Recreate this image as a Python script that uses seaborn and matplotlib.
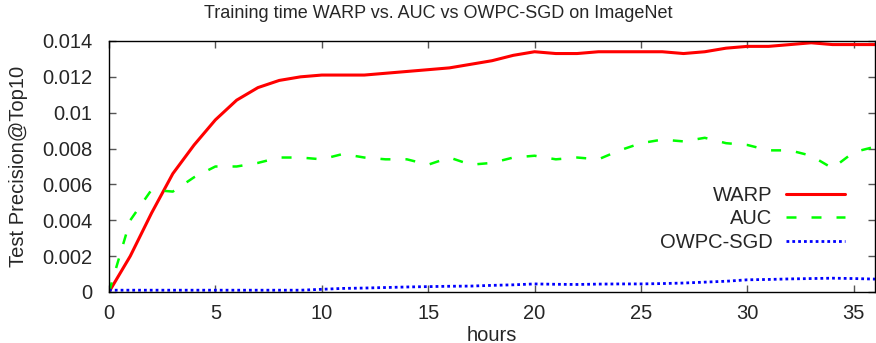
import numpy as np
import pandas as pd
import matplotlib
matplotlib.use("Agg")
import matplotlib.pyplot as plt
import seaborn as sns

# data (hourly)
hours = list(range(0, 37))

warp = [0.0, 0.0020, 0.0044, 0.0066, 0.0082, 0.0096, 0.0107, 0.0114, 0.0118,
        0.0120, 0.0121, 0.0121, 0.0121, 0.0122, 0.0123, 0.0124, 0.0125, 0.0127,
        0.0129, 0.0132, 0.0134, 0.0133, 0.0133, 0.0134, 0.0134, 0.0134, 0.0134,
        0.0133, 0.0134, 0.0136, 0.0137, 0.0137, 0.0138, 0.0139, 0.0138, 0.0138,
        0.0138]

auc = [0.0, 0.0040, 0.0057, 0.0056, 0.0064, 0.0070, 0.0070, 0.0072, 0.0075,
       0.0075, 0.0074, 0.0077, 0.0075, 0.0074, 0.0074, 0.0071, 0.0075, 0.0071,
       0.0072, 0.0075, 0.0076, 0.0074, 0.0075, 0.0074, 0.0079, 0.0083, 0.0085,
       0.0084, 0.0086, 0.0083, 0.0082, 0.0079, 0.0079, 0.0076, 0.0069, 0.0078,
       0.0081]

owpc = [0.0001, 0.0001, 0.0001, 0.0001, 0.0001, 0.0001, 0.0001, 0.0001, 0.0001,
        0.0001, 0.00015, 0.0002, 0.00022, 0.00025, 0.00028, 0.0003, 0.00032,
        0.00033, 0.00037, 0.0004, 0.00045, 0.00043, 0.00042, 0.00044, 0.00045,
        0.00045, 0.00047, 0.0005, 0.00055, 0.0006, 0.00068, 0.0007, 0.00073,
        0.00075, 0.00077, 0.00075, 0.00072]

x_ticks = [0, 5, 10, 15, 20, 25, 30, 35]
y_ticks = [0, 0.002, 0.004, 0.006, 0.008, 0.010, 0.012, 0.014]
y_tick_labels = ["0", "0.002", "0.004", "0.006", "0.008", "0.01", "0.012", "0.014"]

df = pd.DataFrame({"hours": hours, "WARP": warp, "AUC": auc, "OWPC-SGD": owpc})

sns.set_style("ticks")
plt.rcParams["font.family"] = ["Liberation Sans", "DejaVu Sans"]

fig = plt.figure(figsize=(8.76, 3.43), dpi=100)
ax = fig.add_axes([0.1244, 0.1487, 0.8745, 0.7318])

sns.lineplot(data=df, x="hours", y="WARP", ax=ax, color="#ff0000",
             linewidth=2.2, label="WARP")
sns.lineplot(data=df, x="hours", y="AUC", ax=ax, color="#00ff00",
             linewidth=1.8, label="AUC")
ax.lines[-1].set_dashes([4, 6])
sns.lineplot(data=df, x="hours", y="OWPC-SGD", ax=ax, color="#0000ff",
             linewidth=2.0, label="OWPC-SGD")
ax.lines[-1].set_dashes([1, 1.1])

ax.set_xlim(0, 36)
ax.set_ylim(0, 0.014)
ax.set_xticks(x_ticks)
ax.set_yticks(y_ticks)
ax.set_yticklabels(y_tick_labels)

ax.tick_params(direction="in", top=True, right=True, length=5, width=1,
               labelsize=14.5, color="#555555")
ax.tick_params(axis="y", pad=12)
ax.tick_params(axis="x", pad=9)
for s in ax.spines.values():
    s.set_linewidth(1)
    s.set_color("black")

fig.suptitle("Training time WARP vs. AUC vs OWPC-SGD on ImageNet",
             x=0.5, y=0.985, fontsize=13)
ax.set_xlabel("hours", fontsize=14.5, labelpad=1.5)
ax.set_ylabel("Test Precision@Top10", fontsize=14.5, labelpad=10)

leg = ax.legend(loc="upper right", bbox_to_anchor=(0.971, 0.455), frameon=False,
                markerfirst=False, fontsize=14.5, handlelength=2.9,
                labelspacing=0.22, handletextpad=0.7, borderaxespad=0)
for t in leg.get_texts():
    t.set_ha("right")

fig.savefig("out.png", dpi=100)
